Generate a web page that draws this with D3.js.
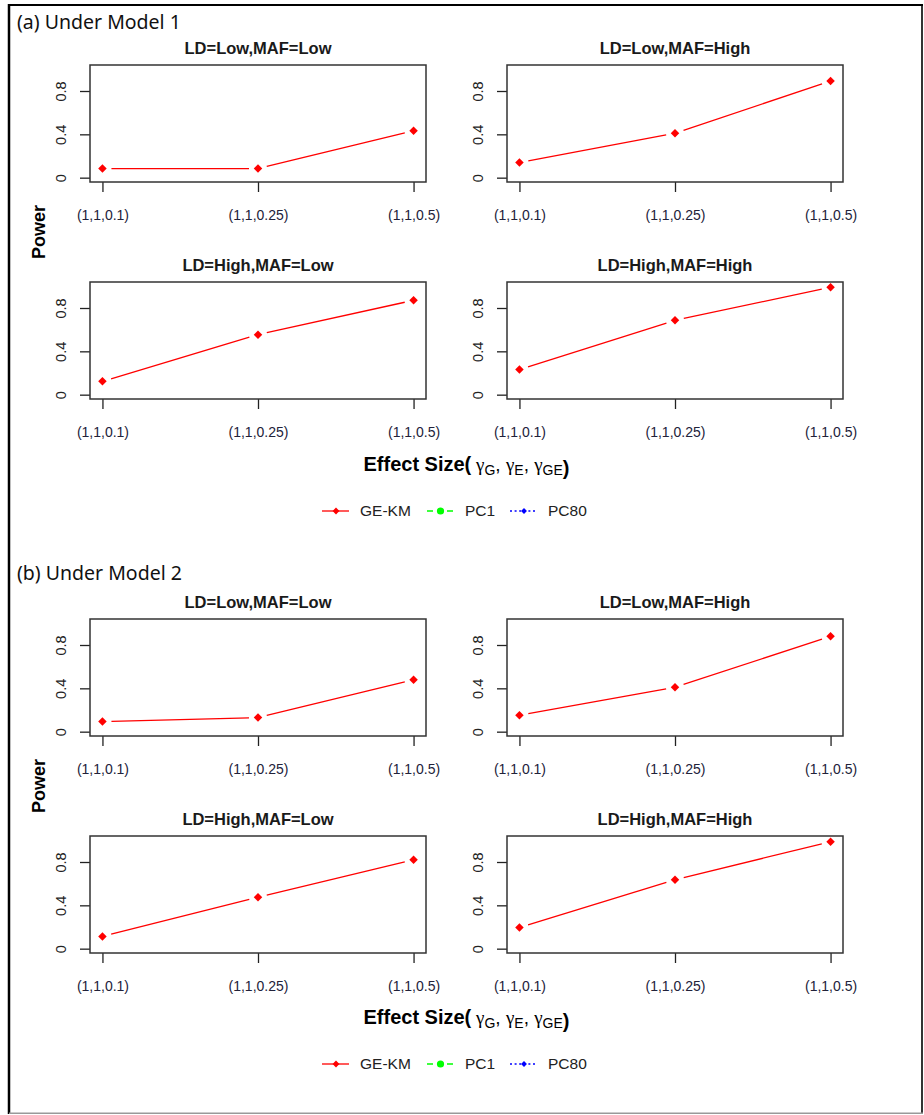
<!DOCTYPE html>
<html>
<head>
<meta charset="utf-8">
<script src="https://cdn.jsdelivr.net/npm/d3@7"></script>
<style>
  body { margin: 0; background: #fff; }
  svg { display: block; }
</style>
</head>
<body>
<div id="chart"></div>
<script>
// values
var effectLabels = ["(1,1,0.1)", "(1,1,0.25)", "(1,1,0.5)"];
var panelTitles = ["LD=Low,MAF=Low", "LD=Low,MAF=High", "LD=High,MAF=Low", "LD=High,MAF=High"];
var modelTitles = ["(a) Under Model 1", "(b) Under Model 2"];
var model1GEKM = [[0.084, 0.084, 0.433], [0.14, 0.41, 0.893], [0.123, 0.554, 0.871], [0.232, 0.686, 0.992]];
var model2GEKM = [[0.093, 0.13, 0.48], [0.152, 0.41, 0.88], [0.113, 0.475, 0.82], [0.196, 0.637, 0.987]];
var yTicks = [0, 0.4, 0.8];
var legendNames = ["GE-KM", "PC1", "PC80"];
var legendColors = ["#ff0000", "#00ff00", "#0000ff"];
var legendDash = [null, "6,4", "2,2.6"];

var W = 924, H = 1115;
var boxW = 336, boxH = 117;
var colX = [90, 507];
var rowY = [[65, 282], [619, 836]];
var titleY = [22, 573];
var xlabY = [465, 1018];
var legY = [511, 1064];
var sans = "'Liberation Sans', Arial, sans-serif";

var svg = d3.select("#chart").append("svg")
    .attr("width", W)
    .attr("height", H);

// outer frame
svg.append("line").attr("x1", 8).attr("x2", 923).attr("y1", 5).attr("y2", 5)
  .attr("stroke", "#000").attr("stroke-width", 2);
svg.append("line").attr("x1", 9).attr("x2", 9).attr("y1", 4).attr("y2", 1114)
  .attr("stroke", "#000").attr("stroke-width", 2.5);
svg.append("line").attr("x1", 922).attr("x2", 922).attr("y1", 4).attr("y2", 1113)
  .attr("stroke", "#000").attr("stroke-width", 1.6);
svg.append("line").attr("x1", 9).attr("x2", 923).attr("y1", 1113.3).attr("y2", 1113.3)
  .attr("stroke", "#999").attr("stroke-width", 1.5);

var x = d3.scaleLinear().domain([0.92, 3.08]).range([0, boxW]);
var y = d3.scaleLinear().domain([-0.04, 1.04]).range([boxH, 0]);
var diamond = d3.symbol().type(d3.symbolDiamond2).size(46);
var gap = 9;

var models = [model1GEKM, model2GEKM];

models.forEach(function(model, m) {
  svg.append("text")
    .attr("x", 17).attr("y", titleY[m]).attr("dy", "0.35em")
    .style("font-family", "'Noto Sans', 'Open Sans', sans-serif")
    .style("font-size", "19.5px")
    .style("fill", "#111")
    .text(modelTitles[m]);

  model.forEach(function(vals, p) {
    var g = svg.append("g")
      .attr("transform", "translate(" + colX[p % 2] + "," + rowY[m][Math.floor(p / 2)] + ")");

    g.append("text")
      .attr("x", boxW / 2).attr("y", -17).attr("dy", "0.35em")
      .attr("text-anchor", "middle")
      .style("font-family", sans).style("font-weight", "bold")
      .style("font-size", "16.5px").style("fill", "#1a1a1a")
      .text(panelTitles[p]);

    var yAxis = g.append("g").call(d3.axisLeft(y).tickValues(yTicks).tickSize(10)
      .tickFormat(function(d) { return d === 0 ? "0" : d3.format(".1f")(d); }));
    yAxis.select(".domain").remove();
    yAxis.selectAll("line").attr("stroke", "#222").attr("stroke-width", 1.3);
    yAxis.selectAll("text")
      .attr("transform", "rotate(-90)")
      .attr("x", 0).attr("y", -29).attr("dy", "0.35em")
      .attr("text-anchor", "middle")
      .style("font-family", sans).style("font-size", "14.5px").style("fill", "#222");

    var xAxis = g.append("g").attr("transform", "translate(0," + boxH + ")")
      .call(d3.axisBottom(x).tickValues([1, 2, 3]).tickSize(10)
        .tickFormat(function(d) { return effectLabels[d - 1]; }));
    xAxis.select(".domain").remove();
    xAxis.selectAll("line").attr("stroke", "#222").attr("stroke-width", 1.3);
    xAxis.selectAll("text")
      .attr("y", 33).attr("dy", "0.35em")
      .style("font-family", sans).style("font-size", "14px").style("fill", "#22223a");

    g.append("rect")
      .attr("width", boxW).attr("height", boxH)
      .attr("fill", "none").attr("stroke", "#333").attr("stroke-width", 1.5);

    // type="b": segments with a gap around each point
    var pts = vals.map(function(v, i) { return [x(i + 1), y(v)]; });
    var segs = d3.pairs(pts).map(function(pr) {
      var dx = pr[1][0] - pr[0][0], dy = pr[1][1] - pr[0][1];
      var len = Math.sqrt(dx * dx + dy * dy);
      var ux = dx / len, uy = dy / len;
      return [[pr[0][0] + ux * gap, pr[0][1] + uy * gap], [pr[1][0] - ux * gap, pr[1][1] - uy * gap]];
    });
    g.selectAll(".seg").data(segs).enter().append("path")
      .attr("class", "seg")
      .attr("d", d3.line())
      .attr("fill", "none").attr("stroke", "#ff0000").attr("stroke-width", 1.3);

    g.selectAll(".pt").data(vals).enter().append("path")
      .attr("class", "pt")
      .attr("d", diamond)
      .attr("transform", function(d, i) { return "translate(" + x(i + 1) + "," + y(d) + ")"; })
      .attr("fill", "#ff0000");
  });

  // power label
  svg.append("text")
    .attr("transform", "translate(39," + ((rowY[m][0] + rowY[m][1] + boxH) / 2) + ") rotate(-90)")
    .attr("text-anchor", "middle").attr("dy", "0.35em")
    .style("font-family", sans).style("font-weight", "bold").style("font-size", "18px")
    .style("fill", "#000")
    .text("Power");

  // x label with gammas
  var xl = svg.append("text")
    .attr("x", (colX[0] + colX[1] + boxW) / 2).attr("y", xlabY[m]).attr("dy", "0.35em")
    .attr("text-anchor", "middle")
    .style("fill", "#000");
  xl.append("tspan").style("font-family", sans).style("font-weight", "bold").style("font-size", "20px")
    .text("Effect Size(");
  var subs = ["G", "E", "GE"];
  subs.forEach(function(s, i) {
    xl.append("tspan").style("font-family", "'Liberation Serif', 'DejaVu Serif', serif").style("font-size", "19px")
      .text((i === 0 ? " " : "") + "\u03b3");
    xl.append("tspan").attr("dy", 4).style("font-family", sans).style("font-size", "14px")
      .text(s);
    xl.append("tspan").attr("dy", -4).style("font-family", sans).style("font-size", "19px")
      .text(i < 2 ? ", " : "");
  });
  xl.append("tspan").style("font-family", sans).style("font-weight", "bold").style("font-size", "20px")
    .text(")");

  // legend
  var legX = [322, 427, 510];
  var leg = svg.append("g").attr("transform", "translate(0," + legY[m] + ")");
  legendNames.forEach(function(name, i) {
    leg.append("line")
      .attr("x1", legX[i]).attr("x2", legX[i] + 27)
      .attr("stroke", legendColors[i]).attr("stroke-width", 1.3)
      .attr("stroke-dasharray", legendDash[i]);
    if (i === 1) {
      leg.append("circle").attr("cx", legX[i] + 13.5).attr("r", 3.6).attr("fill", legendColors[i]);
    } else {
      leg.append("path").attr("d", d3.symbol().type(d3.symbolDiamond2).size(i === 0 ? 30 : 22))
        .attr("transform", "translate(" + (legX[i] + 14) + ",0)").attr("fill", legendColors[i]);
    }
    leg.append("text")
      .attr("x", legX[i] + 38).attr("dy", "0.35em")
      .style("font-family", sans).style("font-size", "15.5px").style("fill", "#222")
      .text(name);
  });
});
</script>
</body>
</html>
